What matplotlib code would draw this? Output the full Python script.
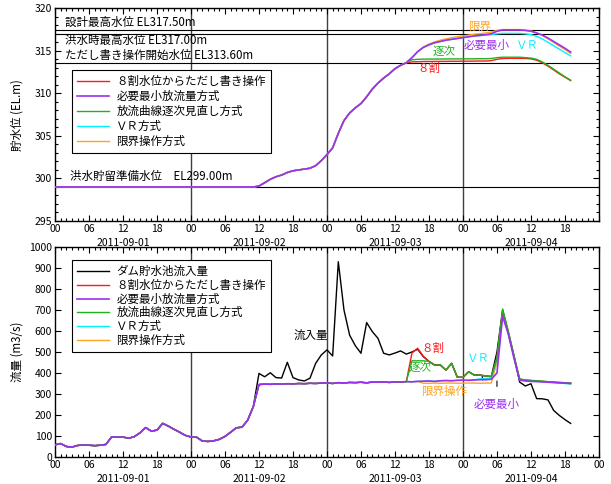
import matplotlib.pyplot as plt
import numpy as np
from matplotlib.ticker import MultipleLocator, FuncFormatter

plt.rcParams['font.family'] = ['Noto Sans CJK JP', 'DejaVu Sans']

# hourly time axis, hours from 2011-09-01 00:00
hours = np.arange(92)
dates = ['2011-09-01', '2011-09-02', '2011-09-03', '2011-09-04']

# dam inflow (m3/s)
inflow = [58, 64, 50, 47, 55, 57, 56, 54, 56, 60,
          96, 94, 95, 89, 97, 115, 140, 123, 128, 160,
          147, 132, 118, 103, 95, 94, 76, 74, 77, 84,
          98, 118, 139, 142, 175, 240, 398, 382, 401, 378,
          376, 451, 378, 367, 362, 375, 446, 486, 510, 481,
          930, 700, 580, 530, 494, 640, 597, 565, 494, 486,
          495, 505, 490, 500, 513, 478, 455, 438, 438, 414,
          446, 380, 379, 406, 390, 390, 386, 383, 500, 700,
          590, 480, 357, 338, 349, 278, 277, 272, 222, 198,
          178, 160]

# outflow: before control starts every method releases the inflow
out_min_tail = [345, 347, 346, 348, 347, 349, 348, 350, 349, 351,
                350, 352, 353, 350, 354, 352, 355, 354, 356, 353,
                357, 356, 358, 355, 358, 357, 359, 358, 360, 361,
                362, 360, 363, 364, 363, 365, 366, 365, 367, 368,
                368, 370, 400, 670, 585, 470, 366, 362, 360, 359,
                358, 356, 355, 353, 352, 350]
out_min = inflow[:36] + out_min_tail

out_80_tail = [495, 518, 480, 455, 438, 438, 414, 446, 380, 379,
               406, 390, 390, 386, 383, 470, 695, 595, 480, 370,
               366, 364, 362, 360, 358, 356, 355, 353, 352]
out_80 = out_min[:63] + out_80_tail

out_step_tail = [458, 458, 458, 455, 438, 438, 414, 446, 380, 379,
                 406, 390, 390, 386, 383, 475, 705, 600, 485, 372,
                 367, 365, 363, 361, 359, 357, 355, 354, 352]
out_step = out_min[:63] + out_step_tail

out_vr_tail = [372, 374, 376, 460, 685, 590, 475, 368, 364, 362,
               360, 358, 356, 354, 352, 350, 348]
out_vr = out_min[:75] + out_vr_tail

out_lim_tail = [351, 351, 352, 351, 352, 352, 351, 352, 352, 352,
                351, 352, 352, 450, 690, 590, 478, 369, 365, 363,
                361, 359, 357, 355, 353, 351, 349]
out_lim = out_min[:65] + out_lim_tail

# reservoir water level (EL.m)
lv_min = [299.0, 299.0, 299.0, 299.0, 299.0, 299.0, 299.0, 299.0, 299.0, 299.0,
          299.0, 299.0, 299.0, 299.0, 299.0, 299.0, 299.0, 299.0, 299.0, 299.0,
          299.0, 299.0, 299.0, 299.0, 299.0, 299.0, 299.0, 299.0, 299.0, 299.0,
          299.0, 299.0, 299.0, 299.0, 299.0, 299.0,
          299.1, 299.5, 299.9, 300.2, 300.4, 300.7, 300.9, 301.0, 301.1, 301.2,
          301.5, 302.1, 302.8, 303.6, 305.3, 306.8, 307.7, 308.3, 308.8, 309.6,
          310.5, 311.2, 311.8, 312.3, 312.9, 313.3, 313.6, 314.2, 314.9, 315.4,
          315.7, 315.95, 316.1, 316.25, 316.35, 316.45, 316.55, 316.65, 316.75, 316.8,
          316.9, 317.0, 317.3, 317.45, 317.45, 317.45, 317.45, 317.4, 317.3, 317.1,
          316.85, 316.5, 316.1, 315.7, 315.3, 314.85]

lv_80_tail = [313.7, 313.72, 313.74, 313.75, 313.75, 313.76, 313.76, 313.77, 313.77, 313.78,
              313.78, 313.79, 313.8, 313.8, 313.85, 314.0, 314.1, 314.12, 314.12, 314.12,
              314.1, 314.05, 313.9, 313.6, 313.2, 312.75, 312.3, 311.9, 311.5]
lv_80 = lv_min[:63] + lv_80_tail

lv_step_tail = [313.6, 313.95, 314.0, 314.02, 314.03, 314.03, 314.04, 314.04, 314.05, 314.05,
                314.05, 314.06, 314.06, 314.07, 314.07, 314.1, 314.2, 314.25, 314.25, 314.25,
                314.25, 314.2, 314.15, 314.0, 313.7, 313.3, 312.85, 312.4, 311.95, 311.55]
lv_step = lv_min[:62] + lv_step_tail

lv_vr_tail = [316.8, 316.85, 316.9, 317.0, 317.05, 317.05, 317.05, 317.05, 317.0, 316.9,
              316.7, 316.4, 316.0, 315.6, 315.2, 314.8, 314.4]
lv_vr = lv_min[:75] + lv_vr_tail

lv_lim_tail = [315.45, 315.8, 316.05, 316.25, 316.4, 316.55, 316.65, 316.75, 316.85, 316.95,
               317.0, 317.1, 317.2, 317.4, 317.5, 317.5, 317.5, 317.5, 317.45, 317.35,
               317.1, 316.8, 316.4, 316.0, 315.55, 315.15, 314.7]
lv_lim = lv_min[:65] + lv_lim_tail

# reference water levels
ref_levels = [317.5, 317.0, 313.6, 299.0]
ref_names = ['設計最高水位 EL317.50m', '洪水時最高水位 EL317.00m',
             'ただし書き操作開始水位 EL313.60m', '洪水貯留準備水位　EL299.00m']

C_RED = '#ff1a1a'
C_PUR = '#9b30f0'
C_GRN = '#1fb21f'
C_CYN = '#00f0ff'
C_ORG = '#ffa51f'

names = ['８割水位からただし書き操作', '必要最小放流量方式', '放流曲線逐次見直し方式',
         'ＶＲ方式', '限界操作方式']

FS = 8.3


def setup_axis(ax, last_label=True):
    ax.set_xlim(0, 96)
    ax.xaxis.set_major_locator(MultipleLocator(6))
    ax.xaxis.set_minor_locator(MultipleLocator(1))

    def fmt(h, pos):
        if not last_label and h >= 96:
            return ''
        return '%02d' % (int(round(h)) % 24)
    ax.xaxis.set_major_formatter(FuncFormatter(fmt))
    ax.tick_params(which='both', direction='in', top=True, right=True, width=0.8,
                   labelsize=7.5, pad=2)
    ax.tick_params(which='major', length=4)
    ax.tick_params(which='minor', length=2)
    for s in ax.spines.values():
        s.set_linewidth(1.0)
    for d in (24, 48, 72):
        ax.axvline(d, color='#404040', lw=1.0, zorder=1)
    for i, d in enumerate(dates):
        ax.annotate(d, xy=(12 + 24 * i, 0), xycoords=('data', 'axes fraction'),
                    xytext=(0, -16), textcoords='offset points',
                    ha='center', va='center', fontsize=7.5)


def add_legend(ax, anchor, spacing):
    leg = ax.legend(loc='upper left', bbox_to_anchor=anchor, borderaxespad=0,
                    fontsize=FS, fancybox=False, edgecolor='k', framealpha=1,
                    handlelength=2.8, handletextpad=0.6, labelspacing=spacing,
                    borderpad=0.45)
    leg.get_frame().set_linewidth(0.8)
    return leg


fig = plt.figure(figsize=(6.11, 4.84), dpi=100)
ax1 = fig.add_axes([0.090, 0.5434, 0.8903, 0.4395])
ax2 = fig.add_axes([0.090, 0.0558, 0.8903, 0.4339])

# --- water level ---
setup_axis(ax1, last_label=False)
ax1.set_ylim(295, 320)
ax1.yaxis.set_major_locator(MultipleLocator(5))
ax1.yaxis.set_minor_locator(MultipleLocator(1))
for lv in ref_levels:
    ax1.axhline(lv, color='k', lw=0.8, zorder=1.5)
ax1.text(1.8, 318.4, ref_names[0], fontsize=FS, va='center')
ax1.text(1.8, 316.25, ref_names[1], fontsize=FS, va='center')
ax1.text(1.8, 314.5, ref_names[2], fontsize=FS, va='center')
ax1.text(2.6, 300.2, ref_names[3], fontsize=FS, va='center')

ax1.plot(hours, lv_80, color=C_RED, lw=1.0, zorder=3, label=names[0])
ax1.plot(hours, lv_min, color=C_PUR, lw=1.2, zorder=5, label=names[1])
ax1.plot(hours, lv_step, color=C_GRN, lw=1.0, zorder=3.5, label=names[2])
ax1.plot(hours, lv_vr, color=C_CYN, lw=1.0, zorder=4, label=names[3])
ax1.plot(hours, lv_lim, color=C_ORG, lw=1.0, zorder=4.5, label=names[4])

ax1.text(75, 317.9, '限界', color=C_ORG, fontsize=FS, ha='center', va='center')
ax1.text(76.1, 315.65, '必要最小', color=C_PUR, fontsize=FS, ha='center', va='center')
ax1.text(83.3, 315.65, 'ＶＲ', color=C_CYN, fontsize=FS, ha='center', va='center')
ax1.text(68.6, 314.85, '逐次', color=C_GRN, fontsize=FS, ha='center', va='center')
ax1.text(66.0, 312.95, '８割', color=C_RED, fontsize=FS, ha='center', va='center')

ax1.set_ylabel('貯水位 (EL.m)', fontsize=FS)
ax1.yaxis.set_label_coords(-0.058, 0.5)
add_legend(ax1, (0.031, 0.709), 0.17)

# --- discharge ---
setup_axis(ax2)
ax2.set_ylim(0, 1000)
ax2.yaxis.set_major_locator(MultipleLocator(100))
ax2.plot(hours, inflow, color='k', lw=1.0, zorder=2, label='ダム貯水池流入量')
ax2.plot(hours, out_80, color=C_RED, lw=1.0, zorder=4, label=names[0])
ax2.plot(hours, out_min, color=C_PUR, lw=1.2, zorder=5, label=names[1])
ax2.plot(hours, out_step, color=C_GRN, lw=1.0, zorder=4.5, label=names[2])
ax2.plot(hours, out_vr, color=C_CYN, lw=1.0, zorder=3.5, label=names[3])
ax2.plot(hours, out_lim, color=C_ORG, lw=1.0, zorder=3, label=names[4])

ax2.text(45.2, 581, '流入量', fontsize=FS, ha='center', va='center')
ax2.text(66.7, 519, '８割', color=C_RED, fontsize=FS, ha='center', va='center')
ax2.text(64.4, 424, '逐次', color=C_GRN, fontsize=FS, ha='center', va='center')
ax2.text(68.6, 314, '限界操作', color=C_ORG, fontsize=FS, ha='center', va='center')
ax2.annotate('ＶＲ', xy=(75.5, 367), xytext=(74.8, 471), color=C_CYN, fontsize=FS,
             ha='center', va='center',
             arrowprops=dict(arrowstyle='-', color='k', lw=0.8, shrinkA=6, shrinkB=0))
ax2.annotate('必要最小', xy=(78.0, 362), xytext=(78.0, 252), color=C_PUR, fontsize=FS,
             ha='center', va='center',
             arrowprops=dict(arrowstyle='-', color='k', lw=0.8, shrinkA=6, shrinkB=0))

ax2.set_ylabel('流量 (m3/s)', fontsize=FS)
ax2.yaxis.set_label_coords(-0.058, 0.5)
add_legend(ax2, (0.031, 0.938), 0.06)

fig.savefig('out.png', dpi=100)
